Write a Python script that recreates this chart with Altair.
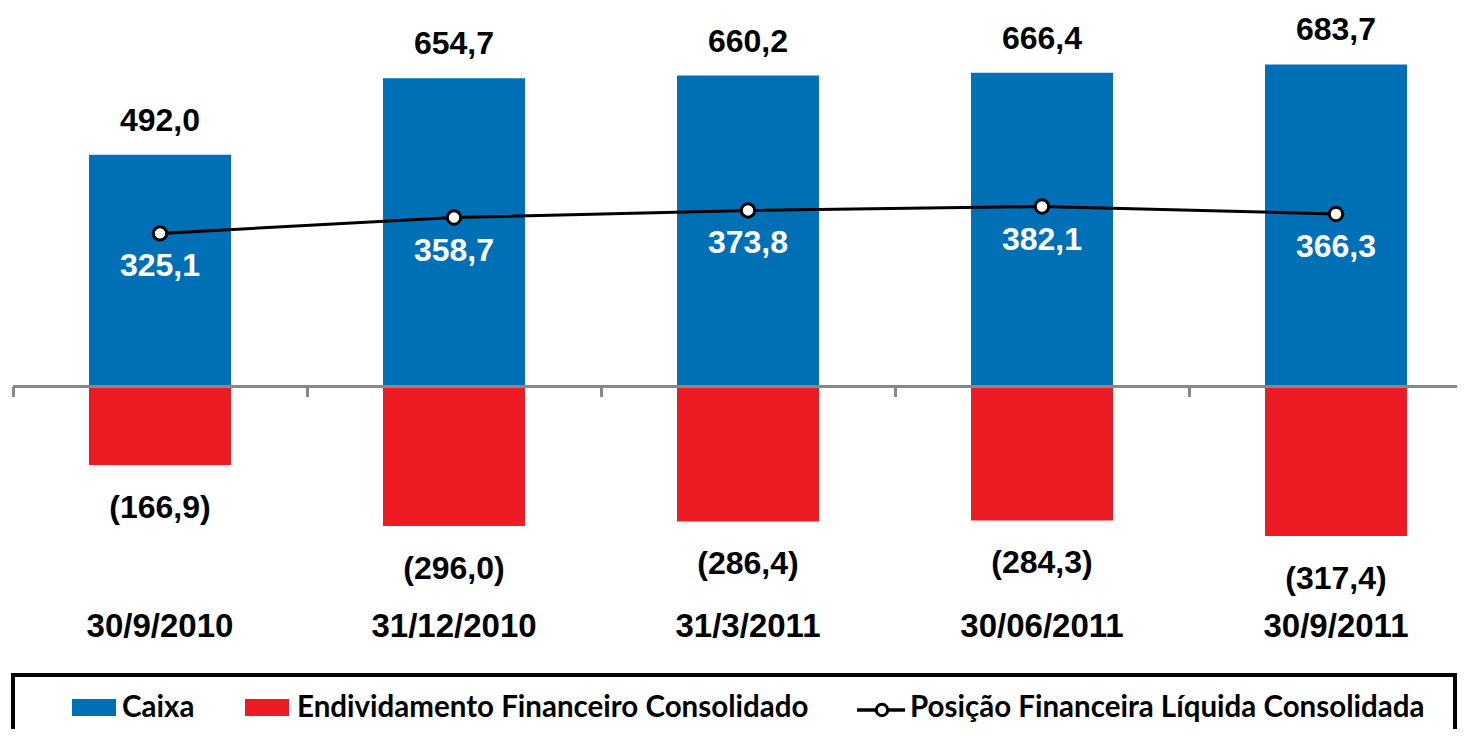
import altair as alt
import pandas as pd

# ---- data ----
categories = ["30/9/2010", "31/12/2010", "31/3/2011", "30/06/2011", "30/9/2011"]
caixa = [492.0, 654.7, 660.2, 666.4, 683.7]
endividamento = [166.9, 296.0, 286.4, 284.3, 317.4]
posicao = [325.1, 358.7, 373.8, 382.1, 366.3]
legend_labels = ["Caixa", "Endividamento Financeiro Consolidado",
                 "Posição Financeira Líquida Consolidada"]

BLUE = "#0070B6"
RED = "#ED1C24"
GRAY = "#888888"

def br(v):
    return f"{v:.1f}".replace(".", ",")

df = pd.DataFrame({
    "i": list(range(len(categories))),
    "cat": categories,
    "caixa": caixa,
    "endiv": [-v for v in endividamento],
    "pos": posicao,
    "caixa_lbl": [br(v) for v in caixa],
    "endiv_lbl": [f"({br(v)})" for v in endividamento],
    "pos_lbl": [br(v) for v in posicao],
})
one = pd.DataFrame({"k": [0]})

W, H = 1449, 721
STEP = 294.0
XMIN = -0.5 - 5 / STEP
XMAX = XMIN + W / STEP
PXU = 0.471
ZERO = 378.5
YMAX = ZERO / PXU
YMIN = -(H - ZERO) / PXU

xscale = alt.Scale(domain=[XMIN, XMAX], nice=False, zero=False, padding=0)
yscale = alt.Scale(domain=[YMIN, YMAX], nice=False, zero=False, padding=0)
xaxis = alt.Axis(values=[-0.5, 0.5, 1.5, 2.5, 3.5, 4.5], domain=False, labels=False,
                 grid=False, ticks=True, tickSize=10, tickWidth=3, tickColor=GRAY,
                 offset=-(H - ZERO), title=None)
X = alt.X("i:Q", scale=xscale, axis=xaxis)

def Y(f):
    return alt.Y(f"{f}:Q", scale=yscale, axis=None)

base = alt.Chart(df)

bars_c = base.mark_bar(size=142, color=BLUE).encode(x=X, y=Y("caixa"))
bars_e = base.mark_bar(size=142, color=RED).encode(x=X, y=Y("endiv"))
zero = alt.Chart(one).mark_rule(color=GRAY, strokeWidth=3).encode(
    x=alt.value(5), x2=alt.value(W), y=alt.value(ZERO))
line = base.mark_line(color="black", strokeWidth=3).encode(x=X, y=Y("pos"))
pts = base.mark_point(shape="circle", filled=True, fill="white", stroke="black",
                      strokeWidth=3, size=180, opacity=1).encode(x=X, y=Y("pos"))

tfont = "Liberation Sans"
lab_c = base.mark_text(dy=-34, fontSize=32, fontWeight="bold", font=tfont,
                       color="black", baseline="middle").encode(x=X, y=Y("caixa"), text="caixa_lbl:N")
lab_p = base.mark_text(dy=33, fontSize=32, fontWeight="bold", font=tfont,
                       color="white", baseline="middle").encode(x=X, y=Y("pos"), text="pos_lbl:N")
lab_e = base.mark_text(dy=43, fontSize=32, fontWeight="bold", font=tfont,
                       color="black", baseline="middle").encode(x=X, y=Y("endiv"), text="endiv_lbl:N")
lab_cat = base.mark_text(fontSize=33, fontWeight="bold", font=tfont, color="black",
                         baseline="middle").encode(x=X, y=alt.value(619), text="cat:N")

# ---- manual legend ----
lfont = "Lato"
lsize = 29.5
box = alt.Chart(one).mark_rect(fillOpacity=0, stroke="black", strokeWidth=4).encode(
    x=alt.value(5), x2=alt.value(W - 2), y=alt.value(667), y2=alt.value(780))
sq_c = alt.Chart(one).mark_rect(color=BLUE).encode(
    x=alt.value(64), x2=alt.value(108), y=alt.value(691), y2=alt.value(708))
sq_e = alt.Chart(one).mark_rect(color=RED).encode(
    x=alt.value(237), x2=alt.value(281), y=alt.value(691), y2=alt.value(708))
lg_line = alt.Chart(one).mark_rule(color="black", strokeWidth=3.5).encode(
    x=alt.value(849), x2=alt.value(897), y=alt.value(702))
lg_pt = alt.Chart(one).mark_point(shape="circle", filled=True, fill="white", stroke="black",
                                  strokeWidth=3, size=130, opacity=1).encode(
    x=alt.value(874), y=alt.value(702))

def ltext(label, xpos):
    return alt.Chart(one).mark_text(align="left", baseline="alphabetic", font=lfont,
                                    fontSize=lsize, fontWeight="bold", color="black",
                                    text=label).encode(x=alt.value(xpos), y=alt.value(708.5))

lt1 = ltext(legend_labels[0], 114)
lt2 = ltext(legend_labels[1], 289)
lt3 = ltext(legend_labels[2], 902)

chart = alt.layer(
    bars_c, bars_e, zero, line, pts, lab_c, lab_p, lab_e, lab_cat,
    box, sq_c, sq_e, lg_line, lg_pt, lt1, lt2, lt3
).properties(
    width=W, height=H, padding=0, background="white",
    autosize=alt.AutoSizeParams(type="none")
).configure_view(stroke=None)

chart.save("out.html", embed_options={"renderer": "svg", "actions": False})
